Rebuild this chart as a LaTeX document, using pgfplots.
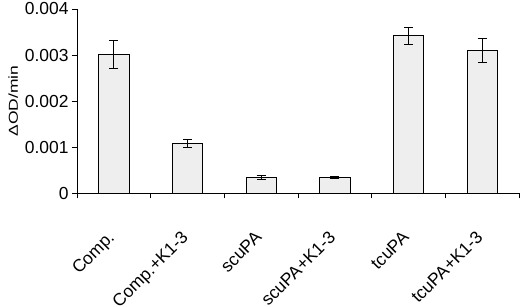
\documentclass[border=0pt]{standalone}
\usepackage{fontspec}
\setmainfont{Liberation Sans}
\usepackage{graphicx}
\usepackage{pgfplots}
\pgfplotsset{compat=1.18}
\definecolor{barfill}{RGB}{238,238,238}
\begin{document}
\begin{tikzpicture}
\begin{axis}[
  scale only axis, width=442bp, height=184.3bp,
  xmin=-0.5, xmax=5.5, ymin=0, ymax=0.004,
  axis lines=left, axis line style={-, line width=0.8bp},
  xtick={-0.5,0.5,1.5,2.5,3.5,4.5,5.5}, x tick label as interval,
  xticklabels={Comp., Comp.+K1-3, scuPA, scuPA+K1-3, tcuPA, tcuPA+K1-3},
  ytick={0,0.001,0.002,0.003,0.004},
  scaled y ticks=false,
  yticklabel style={/pgf/number format/fixed, /pgf/number format/precision=3},
  /pgf/number format/assume math mode=true,
  tick align=outside, major tick length=5bp,
  tick style={black, line width=0.8bp},
  tick label style={font=\fontsize{17.5}{20}\selectfont},
  xticklabel style={rotate=45, anchor=north east, inner sep=1bp, xshift=-10bp},
  xticklabel shift=23bp,
  ylabel={\scalebox{1.35}[1]{ΔOD/min}},
  ylabel style={font=\fontsize{13}{15}\selectfont},
]
\addplot[ybar, bar width=0.41, fill=barfill, draw=black, line width=0.8bp,
  error bars/.cd, y dir=both, y explicit,
  error bar style={line width=0.9bp, black},
  error mark options={rotate=90, mark size=4.5bp, line width=0.9bp, black}]
  table[x=x, y=y, y error=e] {
x y e
0 0.00301 0.00030
1 0.00108 0.00009
2 0.00034 0.00005
3 0.00035 0.00002
4 0.00342 0.00019
5 0.00310 0.00025
};
\end{axis}
\pgfresetboundingbox
\path ([xshift=-77bp,yshift=-113.7bp]current axis.south west) rectangle ([xshift=1bp,yshift=9bp]current axis.north east);
\end{tikzpicture}
\end{document}
